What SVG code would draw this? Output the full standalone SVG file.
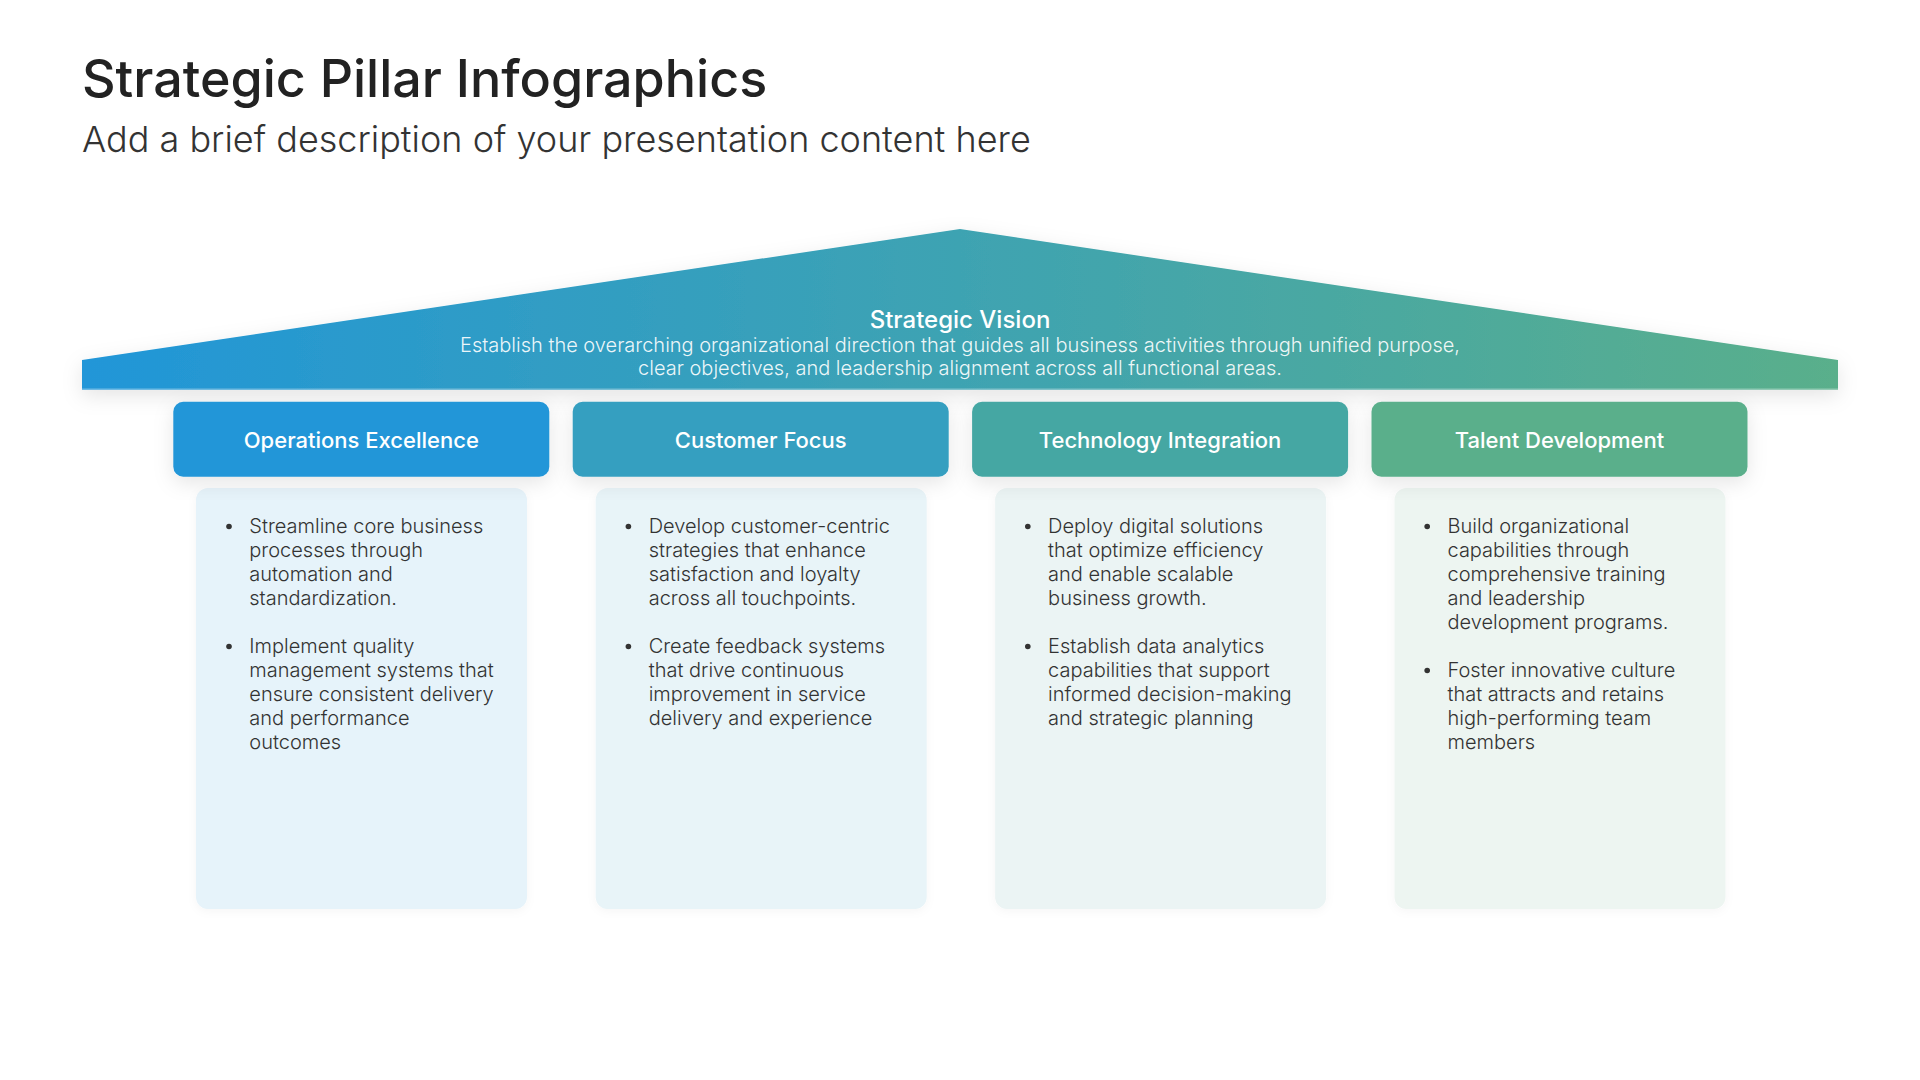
<svg xmlns="http://www.w3.org/2000/svg" width="1920" height="1080" viewBox="0 0 1920 1080">
<defs>
<linearGradient id="roofGrad" x1="82" y1="0" x2="1838" y2="0" gradientUnits="userSpaceOnUse">
<stop offset="0" stop-color="#2196d8"/>
<stop offset="0.5" stop-color="#3ea3b2"/>
<stop offset="1" stop-color="#5aaf8b"/>
</linearGradient>
<filter id="shadow" x="-10%" y="-30%" width="120%" height="160%">
<feDropShadow dx="0" dy="6" stdDeviation="10" flood-color="#000" flood-opacity="0.1"/>
</filter>
<filter id="softShadow" x="-10%" y="-10%" width="120%" height="120%">
<feDropShadow dx="0" dy="2" stdDeviation="5" flood-color="#000" flood-opacity="0.04"/>
</filter>
</defs>
<style>
.title{font-family:Inter,"Noto Sans",sans-serif;font-size:52px;font-weight:500;fill:#222}
.sub{font-family:Inter,"Noto Sans",sans-serif;font-size:36px;font-weight:300;fill:#333}
.vt{font-family:Inter,"Noto Sans",sans-serif;font-size:24px;font-weight:500;fill:#fff;text-anchor:middle}
.vd{font-family:Inter,"Noto Sans",sans-serif;font-size:20px;font-weight:300;fill:#fff;fill-opacity:0.92;text-anchor:middle}
.ht{font-family:Inter,"Noto Sans",sans-serif;font-size:22px;font-weight:500;fill:#fff;text-anchor:middle}
.bt{font-family:Inter,"Noto Sans",sans-serif;font-size:20px;font-weight:300;fill:#333}
.dot{fill:#333}
.hdr{filter:url(#shadow)}
</style>
<rect width="1920" height="1080" fill="#fff"/>
<text class="title" x="82" y="97">Strategic Pillar Infographics</text>
<text class="sub" x="82" y="152">Add a brief description of your presentation content here</text>

<g id="roof">
<polygon points="82,390 82,360 960,229 1838,360 1838,390" fill="url(#roofGrad)" filter="url(#shadow)"/>
<line x1="82" y1="389.3" x2="1838" y2="389.3" stroke="#fff" stroke-opacity="0.35" stroke-width="1.4"/>
<text class="vt" x="960" y="327.5">Strategic Vision</text>
<text class="vd" x="960" y="352">Establish the overarching organizational direction that guides all business activities through unified purpose,</text>
<text class="vd" x="960" y="375">clear objectives, and leadership alignment across all functional areas.</text>
</g>

<g id="connectors"/>

<g id="pillar1">
<rect x="196" y="488" width="331" height="421" rx="12" fill="#e6f3fa" filter="url(#softShadow)"/>
<rect class="hdr" x="173.3" y="401.7" width="376" height="75" rx="10" fill="#2196d8"/>
<text class="ht" x="361.3" y="447.7">Operations Excellence</text>
<g class="bt">
<circle class="dot" cx="229" cy="526.5" r="2.8"/>
<text x="249.3" y="532.7">Streamline core business</text>
<text x="249.3" y="556.7">processes through</text>
<text x="249.3" y="580.7">automation and</text>
<text x="249.3" y="604.7">standardization.</text>
<circle class="dot" cx="229" cy="646.5" r="2.8"/>
<text x="249.3" y="652.7">Implement quality</text>
<text x="249.3" y="676.7">management systems that</text>
<text x="249.3" y="700.7">ensure consistent delivery</text>
<text x="249.3" y="724.7">and performance</text>
<text x="249.3" y="748.7">outcomes</text>
</g>
</g>

<g id="pillar2">
<rect x="595.7" y="488" width="331" height="421" rx="12" fill="#e8f4f8" filter="url(#softShadow)"/>
<rect class="hdr" x="572.7" y="401.7" width="376" height="75" rx="10" fill="#359fc0"/>
<text class="ht" x="760.7" y="447.7">Customer Focus</text>
<g class="bt">
<circle class="dot" cx="628.4" cy="526.5" r="2.8"/>
<text x="648.7" y="532.7">Develop customer-centric</text>
<text x="648.7" y="556.7">strategies that enhance</text>
<text x="648.7" y="580.7">satisfaction and loyalty</text>
<text x="648.7" y="604.7">across all touchpoints.</text>
<circle class="dot" cx="628.4" cy="646.5" r="2.8"/>
<text x="648.7" y="652.7">Create feedback systems</text>
<text x="648.7" y="676.7">that drive continuous</text>
<text x="648.7" y="700.7">improvement in service</text>
<text x="648.7" y="724.7">delivery and experience</text>
</g>
</g>

<g id="pillar3">
<rect x="995.1" y="488" width="331" height="421" rx="12" fill="#ebf4f4" filter="url(#softShadow)"/>
<rect class="hdr" x="972.1" y="401.7" width="376" height="75" rx="10" fill="#45a7a3"/>
<text class="ht" x="1160.1" y="447.7">Technology Integration</text>
<g class="bt">
<circle class="dot" cx="1027.8" cy="526.5" r="2.8"/>
<text x="1048.1" y="532.7">Deploy digital solutions</text>
<text x="1048.1" y="556.7">that optimize efficiency</text>
<text x="1048.1" y="580.7">and enable scalable</text>
<text x="1048.1" y="604.7">business growth.</text>
<circle class="dot" cx="1027.8" cy="646.5" r="2.8"/>
<text x="1048.1" y="652.7">Establish data analytics</text>
<text x="1048.1" y="676.7">capabilities that support</text>
<text x="1048.1" y="700.7">informed decision-making</text>
<text x="1048.1" y="724.7">and strategic planning</text>
</g>
</g>

<g id="pillar4">
<rect x="1394.5" y="488" width="331" height="421" rx="12" fill="#edf5f1" filter="url(#softShadow)"/>
<rect class="hdr" x="1371.5" y="401.7" width="376" height="75" rx="10" fill="#5aaf8b"/>
<text class="ht" x="1559.5" y="447.7">Talent Development</text>
<g class="bt">
<circle class="dot" cx="1427.2" cy="526.5" r="2.8"/>
<text x="1447.5" y="532.7">Build organizational</text>
<text x="1447.5" y="556.7">capabilities through</text>
<text x="1447.5" y="580.7">comprehensive training</text>
<text x="1447.5" y="604.7">and leadership</text>
<text x="1447.5" y="628.7">development programs.</text>
<circle class="dot" cx="1427.2" cy="670.5" r="2.8"/>
<text x="1447.5" y="676.7">Foster innovative culture</text>
<text x="1447.5" y="700.7">that attracts and retains</text>
<text x="1447.5" y="724.7">high-performing team</text>
<text x="1447.5" y="748.7">members</text>
</g>
</g>
</svg>
